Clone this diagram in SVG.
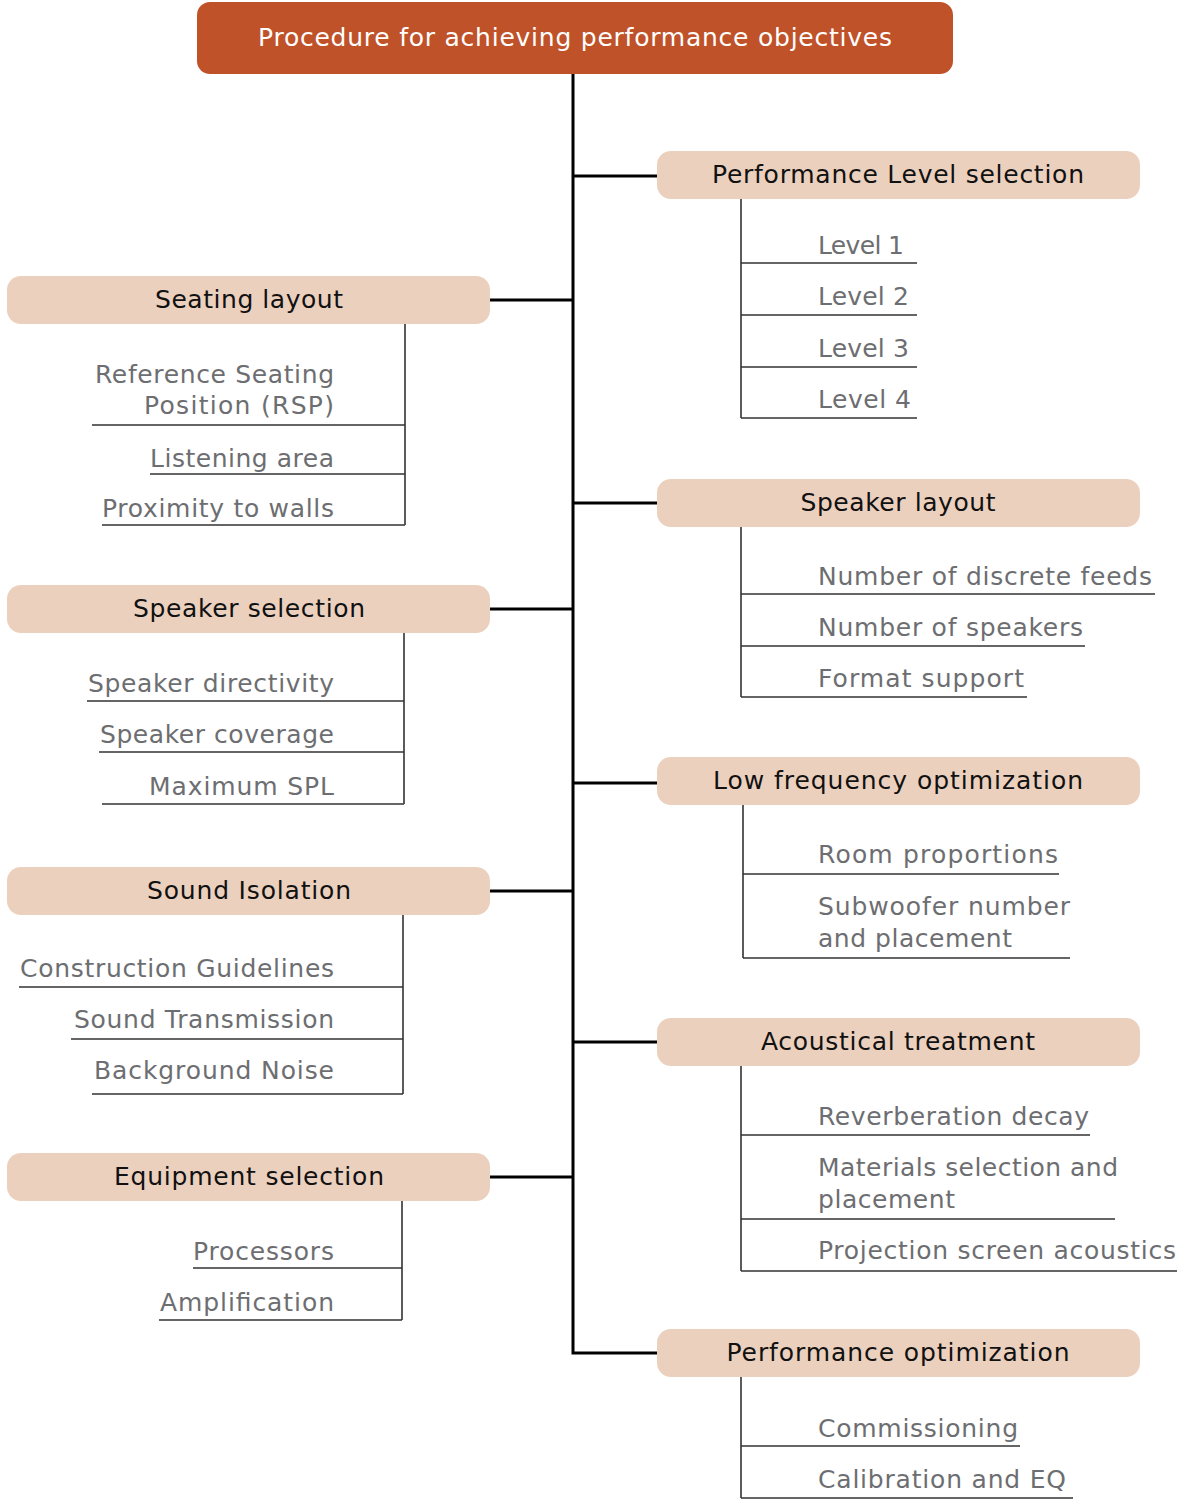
<svg xmlns="http://www.w3.org/2000/svg" width="1182" height="1501" viewBox="0 0 1182 1501">
  <style>
    .root { fill: #C05229; }
    .cat { fill: #ECD0BE; }
    .t-root { font-family: "DejaVu Sans", "Liberation Sans", sans-serif; font-size: 25px; fill: #FFFFFF; text-anchor: middle; }
    .t-cat { font-family: "DejaVu Sans", "Liberation Sans", sans-serif; font-size: 25px; fill: #111111; text-anchor: middle; }
    .t-item { font-family: "DejaVu Sans", "Liberation Sans", sans-serif; font-size: 25px; fill: #6D6E71; }
    .t-l { text-anchor: end; }
    .trunk { stroke: #000000; stroke-width: 3; fill: none; }
    .branch { stroke: #333333; stroke-width: 1.6; fill: none; }
  </style>

  <!-- main trunk and category connectors -->
  <g id="connectors">
    <path class="trunk" d="M573 74 V1353 H657"/>
    <path class="trunk" d="M573 176 H657 M573 503 H657 M573 783 H657 M573 1042 H657"/>
    <path class="trunk" d="M490 300 H573 M490 609 H573 M490 891 H573 M490 1177 H573"/>
    <!-- item rules, right side -->
    <path class="branch" d="M741 198 V418 M741 263 H917 M741 315 H917 M741 367 H917 M741 418 H917"/>
    <path class="branch" d="M741 526 V697 M741 594 H1155 M741 646 H1085 M741 697 H1027"/>
    <path class="branch" d="M743 804 V958 M743 874 H1059 M743 958 H1070"/>
    <path class="branch" d="M741 1065 V1271 M741 1135 H1090 M741 1219 H1115 M741 1271 H1177"/>
    <path class="branch" d="M741 1376 V1498 M741 1446 H1020 M741 1498 H1073"/>
    <!-- item rules, left side -->
    <path class="branch" d="M405 323 V525 M92 425 H405 M150 474 H405 M102 525 H405"/>
    <path class="branch" d="M404 632 V804 M87 701 H404 M99 752 H404 M102 804 H404"/>
    <path class="branch" d="M403 914 V1094 M19 987 H403 M71 1039 H403 M92 1094 H403"/>
    <path class="branch" d="M402 1200 V1320 M193 1268 H402 M159 1320 H402"/>
  </g>

  <g id="root">
    <rect class="root" x="197" y="2" width="756" height="72" rx="13"/>
    <text class="t-root" x="575" y="46" textLength="634" lengthAdjust="spacing">Procedure for achieving performance objectives</text>
  </g>

  <g id="performance-level">
    <rect class="cat" x="657" y="151" width="483" height="48" rx="14"/>
    <text class="t-cat" x="898" y="183" textLength="372" lengthAdjust="spacing">Performance Level selection</text>
    <text class="t-item" x="818" y="254" textLength="86" lengthAdjust="spacing">Level 1</text>
    <text class="t-item" x="818" y="305" textLength="91" lengthAdjust="spacing">Level 2</text>
    <text class="t-item" x="818" y="357" textLength="91" lengthAdjust="spacing">Level 3</text>
    <text class="t-item" x="818" y="408" textLength="93" lengthAdjust="spacing">Level 4</text>
  </g>

  <g id="speaker-layout">
    <rect class="cat" x="657" y="479" width="483" height="48" rx="14"/>
    <text class="t-cat" x="898" y="511" textLength="195" lengthAdjust="spacing">Speaker layout</text>
    <text class="t-item" x="818" y="585" textLength="334" lengthAdjust="spacing">Number of discrete feeds</text>
    <text class="t-item" x="818" y="636" textLength="265" lengthAdjust="spacing">Number of speakers</text>
    <text class="t-item" x="818" y="687" textLength="206" lengthAdjust="spacing">Format support</text>
  </g>

  <g id="low-frequency">
    <rect class="cat" x="657" y="757" width="483" height="48" rx="14"/>
    <text class="t-cat" x="898" y="789" textLength="370" lengthAdjust="spacing">Low frequency optimization</text>
    <text class="t-item" x="818" y="863" textLength="240" lengthAdjust="spacing">Room proportions</text>
    <text class="t-item" x="818" y="915" textLength="252" lengthAdjust="spacing">Subwoofer number</text>
    <text class="t-item" x="818" y="947" textLength="194" lengthAdjust="spacing">and placement</text>
  </g>

  <g id="acoustical-treatment">
    <rect class="cat" x="657" y="1018" width="483" height="48" rx="14"/>
    <text class="t-cat" x="898" y="1050" textLength="274" lengthAdjust="spacing">Acoustical treatment</text>
    <text class="t-item" x="818" y="1125" textLength="271" lengthAdjust="spacing">Reverberation decay</text>
    <text class="t-item" x="818" y="1176" textLength="300" lengthAdjust="spacing">Materials selection and</text>
    <text class="t-item" x="818" y="1208" textLength="137" lengthAdjust="spacing">placement</text>
    <text class="t-item" x="818" y="1259" textLength="358" lengthAdjust="spacing">Projection screen acoustics</text>
  </g>

  <g id="performance-optimization">
    <rect class="cat" x="657" y="1329" width="483" height="48" rx="14"/>
    <text class="t-cat" x="898" y="1361" textLength="343" lengthAdjust="spacing">Performance optimization</text>
    <text class="t-item" x="818" y="1437" textLength="200" lengthAdjust="spacing">Commissioning</text>
    <text class="t-item" x="818" y="1488" textLength="248" lengthAdjust="spacing">Calibration and EQ</text>
  </g>

  <g id="seating-layout">
    <rect class="cat" x="7" y="276" width="483" height="48" rx="14"/>
    <text class="t-cat" x="249" y="308" textLength="188" lengthAdjust="spacing">Seating layout</text>
    <text class="t-item t-l" x="334" y="383" textLength="239" lengthAdjust="spacing">Reference Seating</text>
    <text class="t-item t-l" x="334" y="414" textLength="190" lengthAdjust="spacing">Position (RSP)</text>
    <text class="t-item t-l" x="334" y="467" textLength="184" lengthAdjust="spacing">Listening area</text>
    <text class="t-item t-l" x="334" y="517" textLength="232" lengthAdjust="spacing">Proximity to walls</text>
  </g>

  <g id="speaker-selection">
    <rect class="cat" x="7" y="585" width="483" height="48" rx="14"/>
    <text class="t-cat" x="249" y="617" textLength="232" lengthAdjust="spacing">Speaker selection</text>
    <text class="t-item t-l" x="334" y="692" textLength="246" lengthAdjust="spacing">Speaker directivity</text>
    <text class="t-item t-l" x="334" y="743" textLength="234" lengthAdjust="spacing">Speaker coverage</text>
    <text class="t-item t-l" x="334" y="795" textLength="185" lengthAdjust="spacing">Maximum SPL</text>
  </g>

  <g id="sound-isolation">
    <rect class="cat" x="7" y="867" width="483" height="48" rx="14"/>
    <text class="t-cat" x="249" y="899" textLength="204" lengthAdjust="spacing">Sound Isolation</text>
    <text class="t-item t-l" x="334" y="977" textLength="314" lengthAdjust="spacing">Construction Guidelines</text>
    <text class="t-item t-l" x="334" y="1028" textLength="260" lengthAdjust="spacing">Sound Transmission</text>
    <text class="t-item t-l" x="334" y="1079" textLength="240" lengthAdjust="spacing">Background Noise</text>
  </g>

  <g id="equipment-selection">
    <rect class="cat" x="7" y="1153" width="483" height="48" rx="14"/>
    <text class="t-cat" x="249" y="1185" textLength="270" lengthAdjust="spacing">Equipment selection</text>
    <text class="t-item t-l" x="334" y="1260" textLength="141" lengthAdjust="spacing">Processors</text>
    <text class="t-item t-l" x="334" y="1311" textLength="174" lengthAdjust="spacing">Amplification</text>
  </g>
</svg>
